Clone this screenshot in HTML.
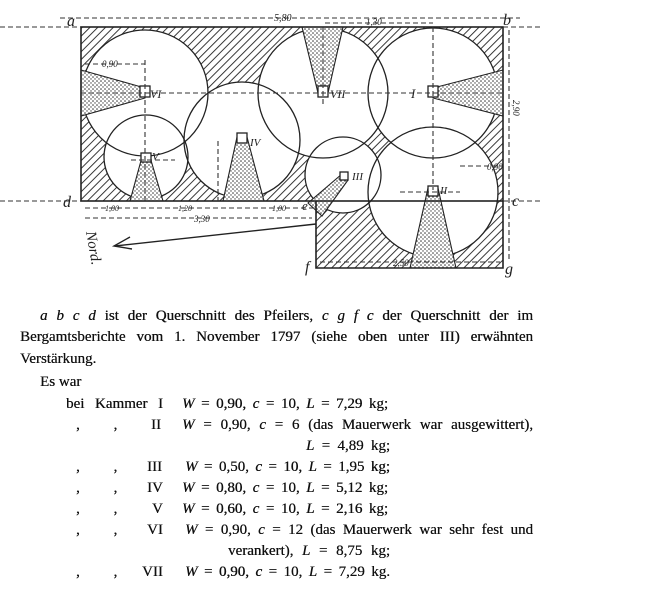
<!DOCTYPE html>
<html><head><meta charset="utf-8"><style>
body{margin:0;width:650px;height:608px;background:#fff;overflow:hidden;position:relative;font-family:"Liberation Serif",serif;color:#111}
.t{position:absolute;font-size:15px;white-space:nowrap;line-height:1;text-shadow:0.3px 0 0 #111}
.j{text-align:justify;text-align-last:justify;white-space:normal}
</style></head><body>
<svg width="650" height="290" style="position:absolute;left:0;top:0">
<defs>
<pattern id="h" width="5.5" height="5.5" patternUnits="userSpaceOnUse" patternTransform="rotate(45)"><line x1="0" y1="0" x2="0" y2="6" stroke="#222" stroke-width="1.8"/></pattern>
<pattern id="d" width="4" height="4" patternUnits="userSpaceOnUse"><rect width="4" height="4" fill="#fff"/><circle cx="1" cy="1" r="0.8" fill="#333"/><circle cx="3" cy="3" r="0.7" fill="#444"/></pattern>
<clipPath id="c"><rect x="81" y="27" width="422" height="174"/><rect x="316" y="201" width="187" height="67"/></clipPath>
</defs>
<rect x="81" y="27" width="422" height="174" fill="url(#h)"/>
<rect x="316" y="201" width="187" height="67" fill="url(#h)"/>
<g clip-path="url(#c)" fill="#fff">
<circle cx="145" cy="93" r="63"/><circle cx="146" cy="157" r="42"/><circle cx="242" cy="140" r="58"/>
<circle cx="323" cy="93" r="65"/><circle cx="433" cy="93" r="65"/><circle cx="343" cy="175" r="38"/><circle cx="433" cy="192" r="65"/>
</g>
<g fill="none" stroke="#222" stroke-width="1.3">
<circle cx="145" cy="93" r="63"/><circle cx="146" cy="157" r="42"/><circle cx="242" cy="140" r="58"/>
<circle cx="323" cy="93" r="65"/><circle cx="433" cy="93" r="65"/><circle cx="343" cy="175" r="38"/><circle cx="433" cy="192" r="65"/>
</g>
<g fill="url(#d)" stroke="#222" stroke-width="1.1">
<polygon points="81,70 145,88 145,98 81,116"/>
<polygon points="302,27 343,27 328,93 318,93"/>
<polygon points="503,70 433,88 433,98 503,116"/>
<polygon points="130,201 163,201 150,157 142,157"/>
<polygon points="223,201 264,201 247,137 237,137"/>
<polygon points="410,268 456,268 438,188 428,188"/>
<polygon points="308,203 322,216 348,180 342,174"/>
</g>
<g fill="#fff" stroke="#222" stroke-width="1.3">
<rect x="140" y="86" width="10" height="11"/><rect x="318" y="86" width="10" height="11"/><rect x="428" y="86" width="10" height="11"/>
<rect x="141" y="153" width="10" height="9"/><rect x="237" y="133" width="10" height="10"/><rect x="428" y="186" width="10" height="10"/><rect x="340" y="172" width="8" height="8"/>
</g>
<g stroke="#222" stroke-width="1.6" fill="none">
<rect x="81" y="27" width="422" height="174"/>
<polyline points="316,201 316,268 503,268 503,201"/>
</g>
<g stroke="#333" stroke-width="1.1" stroke-dasharray="5,3" fill="none">
<line x1="60" y1="18" x2="520" y2="18"/><line x1="0" y1="27" x2="81" y2="27"/><line x1="503" y1="27" x2="540" y2="27"/>
<line x1="0" y1="201" x2="81" y2="201"/><line x1="503" y1="201" x2="540" y2="201"/>
<line x1="81" y1="93" x2="503" y2="93"/><line x1="433" y1="27" x2="433" y2="190"/>
<line x1="145" y1="60" x2="145" y2="201"/><line x1="323" y1="27" x2="323" y2="105"/>
<line x1="85" y1="208" x2="316" y2="208"/><line x1="85" y1="218" x2="312" y2="218"/>
<line x1="320" y1="262" x2="500" y2="262"/><line x1="509" y1="30" x2="509" y2="262"/>
<line x1="85" y1="64" x2="145" y2="64"/><line x1="325" y1="23" x2="433" y2="23"/>
<line x1="218" y1="141" x2="218" y2="201"/><line x1="400" y1="192" x2="460" y2="192"/>
<line x1="460" y1="166" x2="503" y2="166"/><line x1="131" y1="160" x2="175" y2="160"/>
</g>
<line x1="316" y1="224" x2="115" y2="246" stroke="#222" stroke-width="1.4"/>
<polyline points="130,237 114,246 132,249" fill="none" stroke="#222" stroke-width="1.4"/>
<g font-family="Liberation Serif,serif" font-style="italic" fill="#222">
<text x="67" y="26" font-size="16">a</text><text x="503" y="25" font-size="16">b</text>
<text x="63" y="207" font-size="16">d</text><text x="512" y="206" font-size="16">c</text>
<text x="302" y="210" font-size="13">e</text><text x="305" y="272" font-size="16">f</text><text x="505" y="274" font-size="16">g</text>
<text x="274" y="21" font-size="10">5,80</text><text x="366" y="25" font-size="9">1,30</text>
<text x="102" y="67" font-size="9">0,90</text><text x="487" y="170" font-size="9">0,90</text>
<text x="150" y="98" font-size="12">VI</text><text x="330" y="98" font-size="12">VII</text><text x="411" y="98" font-size="13">I</text>
<text x="152" y="160" font-size="11">V</text><text x="250" y="146" font-size="11">IV</text><text x="352" y="180" font-size="11">III</text><text x="440" y="194" font-size="11">II</text>
<text x="105" y="211" font-size="8">1,00</text><text x="178" y="211" font-size="8">1,20</text><text x="272" y="211" font-size="8">1,00</text>
<text x="194" y="222" font-size="9">3,30</text><text x="393" y="266" font-size="9">2,50</text>
<text transform="translate(86,232) rotate(80)" font-size="15">Nord.</text>
<text transform="translate(513,100) rotate(90)" font-size="9">2,90</text>
</g>
</svg>
<div class="t j" style="left:40px;top:309px;width:493px"><i>a&nbsp;b&nbsp;c&nbsp;d</i> ist der Querschnitt des Pfeilers, <i>c&nbsp;g&nbsp;f&nbsp;c</i> der Querschnitt der im</div>
<div class="t j" style="left:20px;top:330px;width:513px">Bergamtsberichte vom 1. November 1797 (siehe oben unter III) erwähnten</div>
<div class="t" style="left:20px;top:352px">Verstärkung.</div>
<div class="t" style="left:40px;top:375px">Es war</div>
<div class="t j" style="left:66px;top:397px;width:97px">bei Kammer I</div>
<div class="t j" style="left:182px;top:397px;width:206px"><i>W</i> = 0,90, <i>c</i> = 10, <i>L</i> = 7,29 kg;</div>
<div class="t" style="left:76px;top:418px">,&nbsp;&nbsp;&nbsp;&nbsp;&nbsp;&nbsp;&nbsp;&nbsp;&nbsp;,</div><div class="t" style="left:151px;top:418px">II</div>
<div class="t j" style="left:182px;top:418px;width:351px"><i>W</i> = 0,90, <i>c</i> = 6 (das Mauerwerk war ausgewittert),</div>
<div class="t j" style="left:306px;top:439px;width:84px"><i>L</i> = 4,89 kg;</div>
<div class="t" style="left:76px;top:460px">,&nbsp;&nbsp;&nbsp;&nbsp;&nbsp;&nbsp;&nbsp;&nbsp;&nbsp;,</div><div class="t" style="left:147px;top:460px">III</div>
<div class="t j" style="left:185px;top:460px;width:205px"><i>W</i> = 0,50, <i>c</i> = 10, <i>L</i> = 1,95 kg;</div>
<div class="t" style="left:76px;top:481px">,&nbsp;&nbsp;&nbsp;&nbsp;&nbsp;&nbsp;&nbsp;&nbsp;&nbsp;,</div><div class="t" style="left:147px;top:481px">IV</div>
<div class="t j" style="left:182px;top:481px;width:206px"><i>W</i> = 0,80, <i>c</i> = 10, <i>L</i> = 5,12 kg;</div>
<div class="t" style="left:76px;top:502px">,&nbsp;&nbsp;&nbsp;&nbsp;&nbsp;&nbsp;&nbsp;&nbsp;&nbsp;,</div><div class="t" style="left:152px;top:502px">V</div>
<div class="t j" style="left:182px;top:502px;width:206px"><i>W</i> = 0,60, <i>c</i> = 10, <i>L</i> = 2,16 kg;</div>
<div class="t" style="left:76px;top:523px">,&nbsp;&nbsp;&nbsp;&nbsp;&nbsp;&nbsp;&nbsp;&nbsp;&nbsp;,</div><div class="t" style="left:147px;top:523px">VI</div>
<div class="t j" style="left:185px;top:523px;width:348px"><i>W</i> = 0,90, <i>c</i> = 12 (das Mauerwerk war sehr fest und</div>
<div class="t j" style="left:228px;top:544px;width:162px">verankert), <i>L</i> = 8,75 kg;</div>
<div class="t" style="left:76px;top:565px">,&nbsp;&nbsp;&nbsp;&nbsp;&nbsp;&nbsp;&nbsp;&nbsp;&nbsp;,</div><div class="t" style="left:142px;top:565px">VII</div>
<div class="t j" style="left:185px;top:565px;width:205px"><i>W</i> = 0,90, <i>c</i> = 10, <i>L</i> = 7,29 kg.</div>
</body></html>
